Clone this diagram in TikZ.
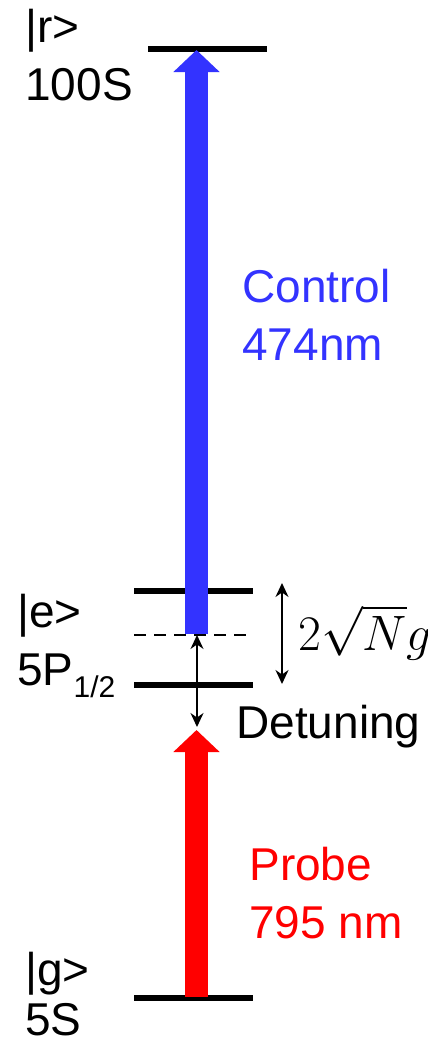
\documentclass[tikz,border=0pt]{standalone}
\usepackage{fontspec}
\setmainfont{Liberation Sans}
\usetikzlibrary{arrows.meta}
\definecolor{ctrlblue}{RGB}{51,51,255}
\begin{document}
\begin{tikzpicture}[x=0.5pt, y=-0.5pt, font=\fontsize{23}{27}\selectfont, line join=round, >={Stealth[length=7pt, width=6.5pt]}]
		\useasboundingbox (0,0) rectangle (428,1044);
		\tikzset{level/.style={line width=2.6pt},
			beam/.style={line width=11.5pt, -{Triangle[length=11pt, width=22.5pt]}},
			lbl/.style={anchor=base west, inner sep=0pt}}
				\path	(148,49) coordinate (R1)
				(267,49) coordinate (R2)
				(134,591) coordinate (E1)
				(253,591) coordinate (E2)
				(134,635) coordinate (V1)
				(250,635) coordinate (V2)
				(134,685) coordinate (L1)
				(253,685) coordinate (L2)
				(134,998) coordinate (G1)
				(253,998) coordinate (G2)
				(196.5,634) coordinate (Cs)
				(196.5,50) coordinate (Ct)
				(196.5,997) coordinate (Ps)
				(196.5,730) coordinate (Pt)
				(197,635) coordinate (Da)
				(197,727) coordinate (Db)
				(282,583) coordinate (Sa)
				(282,684) coordinate (Sb);
				% energy levels
				\foreach \a/\b in {R1/R2,E1/E2,L1/L2,G1/G2} \draw[level] (\a)--(\b);
				\draw[line width=1pt, dash pattern=on 6pt off 4pt] (V1)--(V2);
				% lasers
				\draw[beam, ctrlblue] (Cs)--(Ct);
				\draw[beam, red] (Ps)--(Pt);
				\draw[line width=1pt,<->] (Da)--(Db);
				\draw[line width=1pt,<->] (Sa)--(Sb);
				% labels
				\node[lbl] (r) at (25,42) {|r>};
				\node[lbl] (rn) at (25,100) {100S};
				\node[lbl] (e) at (17,627) {|e>};
				\node[lbl] (en) at (17,685) {5P\raisebox{-6pt}{\fontsize{15}{18}\selectfont 1/2}};
				\node[lbl] (g) at (25,985) {|g>};
				\node[lbl] (gn) at (25,1035) {5S};
				\node[lbl, ctrlblue] (ctrl) at (242,302) {Control};
				\node[lbl, ctrlblue] (ctrlw) at (242,360) {474nm};
				\node[lbl, red] (prb) at (249,880) {Probe};
				\node[lbl, red] (prbw) at (249,938) {795 nm};
				\node[lbl] (det) at (236,738) {Detuning};
				\node[lbl] (split) at (298,650) {$2\sqrt{N}g$};
		\end{tikzpicture}
\end{document}
